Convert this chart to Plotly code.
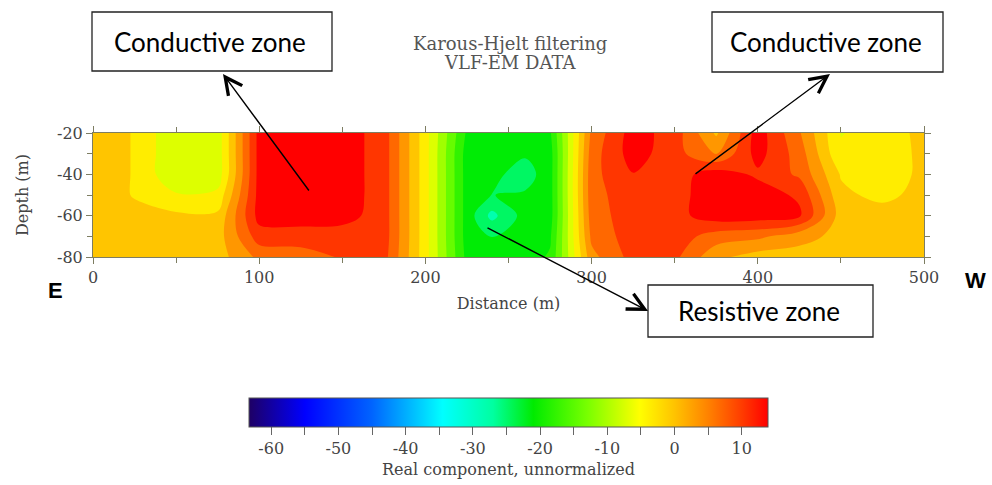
import plotly.graph_objects as go

# ---------------- data ----------------
distance = [0, 25, 50, 75, 100, 125, 150, 175, 200, 225, 240, 260, 275,
            300, 325, 350, 375, 400, 425, 450, 475, 500]
depth = [-20, -30, -40, -50, -60, -70, -80]

# real component (unnormalized), one list per depth level
z_m20 = [0, -2.1, -8.5, -7.5, 13.5, 14, 14, 10.5, -4, -20, -21, -21, -20, 6, 13.8, 10.5, 1, 14, 5.5, -5.5, -4.5, -0.5]
z_m30 = [0, -2.1, -8.5, -7.5, 13.5, 14, 14, 10.5, -4, -21, -21.5, -22.5, -21, 7, 13.8, 10, 5, 13.5, 7, -5, -4.5, -0.8]
z_m40 = [0, -2.1, -8.5, -7.5, 13.5, 14, 14, 10.5, -4, -21, -22, -24.5, -21, 7.5, 12, 10.5, 14, 11.5, 8, -2.2, -4.5, -0.8]
z_m50 = [0, -2.1, -5, -4.5, 13.5, 14, 14, 10.5, -4, -21, -23, -22.5, -21, 7.5, 10.5, 11, 14, 14, 11.5, -1, -3, -0.5]
z_m60 = [0, -1, -1.2, -1.2, 13.5, 14, 13.5, 10.5, -4, -21, -27.5, -21.5, -21, 7, 10.5, 11, 14, 14, 12.8, 0, 0, 0]
z_m70 = [0, 0, 0, 0, 10.5, 10.5, 10.5, 10.5, -4, -21, -23, -21, -20, 6, 10.5, 10.5, 7, 6, 3, 0.5, 0, 0]
z_m80 = [0, 0, 0, 0, 6, 7, 9, 10, -4, -20.5, -21, -21, -19, 4, 10, 9.5, 2.5, 0, 0, 0, 0, 0]
z = [z_m20, z_m30, z_m40, z_m50, z_m60, z_m70, z_m80]

cb_min, cb_max = -63.3, 13.9
cb_tickvals = [-60, -55, -50, -45, -40, -35, -30, -25, -20, -15, -10, -5, 0, 5, 10]
cb_ticktext = ['-60', '', '-50', '', '-40', '', '-30', '', '-20', '', '-10', '', '0', '', '10']
x_tickvals = [0, 100, 200, 300, 400, 500]
y_tickvals = [-80, -60, -40, -20]
y_ticktext = ['-80', '-60', '-40', '-20']

# ---------------- styling ----------------
span = cb_max - cb_min
stops = [(-63.3, 'rgb(30,0,100)'), (-55, 'rgb(0,0,255)'), (-45, 'rgb(0,100,255)'),
         (-34.5, 'rgb(0,255,255)'), (-27, 'rgb(0,255,160)'), (-21, 'rgb(0,235,0)'),
         (-13, 'rgb(120,255,0)'), (-5.2, 'rgb(255,255,0)'), (0, 'rgb(255,195,0)'),
         (5, 'rgb(255,130,0)'), (10, 'rgb(255,60,0)'), (13.9, 'rgb(255,0,0)')]
colorscale = [[(v - cb_min) / span, c] for v, c in stops]

nb = 22
cs = span / nb
c_start = cb_min + cs / 2
c_end = cb_max - cs / 2 + 1e-6

frame = '#7d7d62'
serif = 'DejaVu Serif'
tickfont = dict(family=serif, size=16, color='#444')
labfont = dict(family=serif, size=16, color='#444')

# body margin is removed by a post script, so the figure fills the window
W, H = 992, 485
PL, PR, PT, PB = 93, 924, 133, 257   # plot area in window pixels


def px_x(p):
    return (p - PL) / (PR - PL)


def px_y(p):
    return (PB - p) / (PB - PT)


fig = go.Figure()
fig.add_trace(go.Contour(
    x=distance, y=depth, z=z,
    colorscale=colorscale, autocontour=False,
    contours=dict(start=c_start, end=c_end, size=cs, coloring='fill', showlines=False),
    line=dict(width=0, smoothing=1.0),
    showscale=False, hoverinfo='skip'))

fig.add_trace(go.Scatter(
    x=[None], y=[None], mode='markers', showlegend=False, hoverinfo='skip',
    marker=dict(color=[0], colorscale=colorscale, cmin=cb_min, cmax=cb_max, showscale=True,
                colorbar=dict(orientation='h', x=px_x(508.5), xanchor='center',
                              y=px_y(398), yanchor='top',
                              len=519, lenmode='pixels', thickness=29, thicknessmode='pixels',
                              xpad=0, ypad=0, outlinewidth=1, outlinecolor='#555',
                              ticks='outside', ticklen=8, tickcolor='#666',
                              tickvals=cb_tickvals, ticktext=cb_ticktext, tickfont=tickfont,
                              title=dict(text='Real component, unnormalized', side='bottom',
                                         font=labfont)))))

fig.update_layout(
    width=W, height=H,
    margin=dict(l=PL, r=W - PR, t=PT, b=H - PB, autoexpand=False),
    paper_bgcolor='white', plot_bgcolor='white',
    showlegend=False,
    xaxis=dict(range=[0, 500], tickvals=x_tickvals, ticks='outside', ticklen=6, tickcolor=frame,
               showline=True, linecolor=frame, linewidth=1, mirror='allticks',
               minor=dict(dtick=50, ticks='outside', ticklen=5, tickcolor=frame),
               showgrid=False, zeroline=False, tickfont=tickfont,
               title=dict(text='Distance (m)', standoff=11, font=labfont)),
    yaxis=dict(range=[-80, -20], tickvals=y_tickvals, ticktext=y_ticktext, ticks='outside',
               ticklen=6, tickcolor=frame, showline=True, linecolor=frame, linewidth=1,
               mirror='allticks',
               minor=dict(dtick=10, ticks='outside', ticklen=5, tickcolor=frame),
               showgrid=False, zeroline=False, tickfont=tickfont,
               title=dict(text='Depth (m)', standoff=24, font=labfont)),
)

# chart title (two lines)
for txt, ypx in (('Karous-Hjelt filtering', 43), ('VLF-EM DATA', 62)):
    fig.add_annotation(xref='paper', yref='paper', x=px_x(510), y=px_y(ypx),
                       text=txt, showarrow=False, xanchor='center', yanchor='middle',
                       font=dict(family=serif, size=18, color='#555'))

# annotation boxes (window pixels)
boxes = [
    (92, 12, 332, 71, 'Conductive zone'),
    (712, 12, 943, 72, 'Conductive zone'),
    (648, 285, 873, 337, 'Resistive zone'),
]
for x0, y0, x1, y1, txt in boxes:
    fig.add_shape(type='rect', xref='paper', yref='paper',
                  x0=px_x(x0), x1=px_x(x1), y0=px_y(y1), y1=px_y(y0),
                  line=dict(color='#222', width=1.3), fillcolor='white', layer='above')
    fig.add_annotation(xref='paper', yref='paper', x=px_x((x0 + x1) / 2 - 2), y=px_y((y0 + y1) / 2),
                       text=txt, showarrow=False, xanchor='center', yanchor='middle',
                       font=dict(family='Lato', size=26, color='black'))

# arrows (tip, tail) in window pixels
arrows = [((223, 74), (310, 192)), ((830, 74), (694, 175)), ((648, 311), (486, 227))]
for (tx, ty), (sx, sy) in arrows:
    fig.add_annotation(xref='paper', yref='paper', x=px_x(tx), y=px_y(ty), text='',
                       showarrow=True, axref='pixel', ayref='pixel', ax=sx - tx, ay=sy - ty,
                       arrowhead=5, arrowsize=2.4, arrowwidth=1.4, arrowcolor='black')

fig.add_annotation(xref='paper', yref='paper', x=px_x(55), y=px_y(290), text='<b>E</b>',
                   showarrow=False, xanchor='center', yanchor='middle',
                   font=dict(family='Liberation Sans', size=22, color='black'))
fig.add_annotation(xref='paper', yref='paper', x=px_x(975), y=px_y(280), text='<b>W</b>',
                   showarrow=False, xanchor='center', yanchor='middle',
                   font=dict(family='Liberation Sans', size=22, color='black'))

fig.write_html('out.html', config={'displayModeBar': False},
               post_script="document.body.style.margin='0';document.body.style.overflow='hidden';")
